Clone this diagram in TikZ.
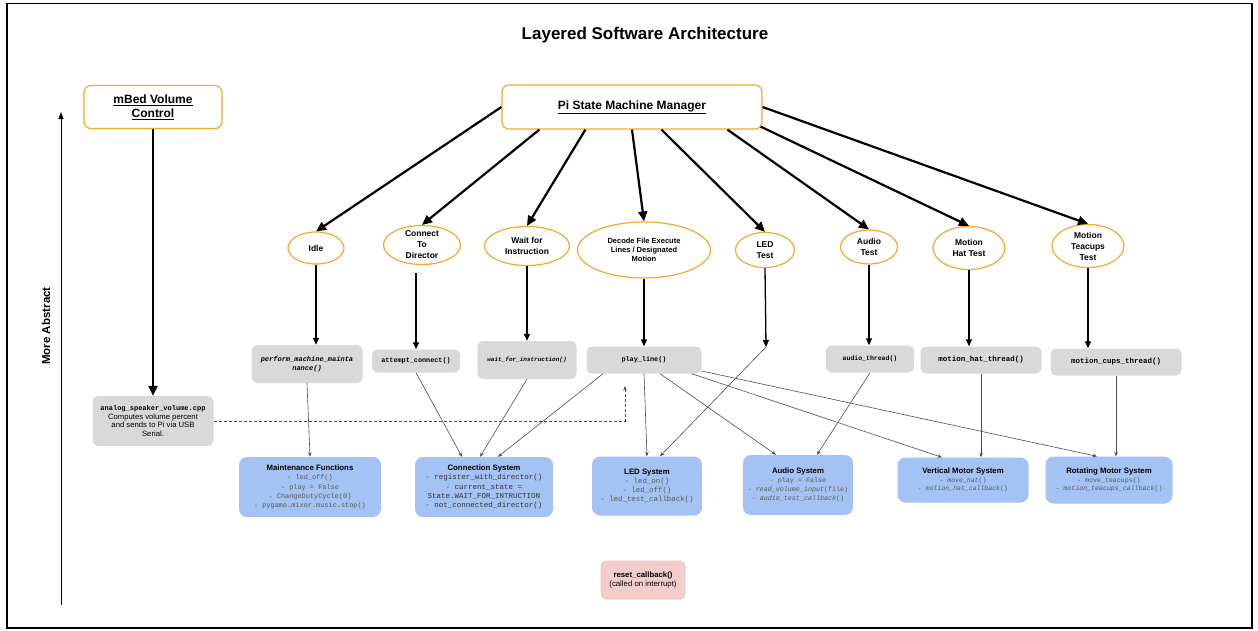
\documentclass[tikz,border=0pt]{standalone}
\usepackage{fontspec}
\setmainfont{Liberation Sans}
\setsansfont{Liberation Sans}
\setmonofont{Liberation Mono}
\usetikzlibrary{arrows.meta,shapes.geometric}

\definecolor{stateorange}{RGB}{247,166,48}
\definecolor{funcgray}{RGB}{217,217,217}
\definecolor{sysblue}{RGB}{164,194,244}
\definecolor{resetpink}{RGB}{244,204,204}
\definecolor{itemgray}{RGB}{90,90,90}

% bold sans heading inside a system box
\newcommand{\sysname}[1]{{\fontsize{7.8}{9.3}\selectfont\rmfamily\bfseries\color{black}#1}}

\begin{document}
\begin{tikzpicture}[x=1pt, y=-1pt,
    box/.style={draw=stateorange, line width=1.2pt, rounded corners=7pt, fill=white, align=center, inner sep=0pt},
    state/.style={ellipse, draw=stateorange, line width=1.2pt, align=center, inner xsep=0pt, inner ysep=-4pt,
                  font=\fontsize{8.5}{11}\selectfont\bfseries},
    func/.style={fill=funcgray, rounded corners=6pt, align=center, inner sep=0pt},
    system/.style={fill=sysblue, rounded corners=8pt, align=center, inner sep=0pt, text=itemgray},
    call/.style={line width=2.2pt, -{Triangle[length=10pt,width=9pt]}},
    down/.style={line width=1.3pt, -{Triangle[length=7pt,width=6pt]}},
    link/.style={draw=black!70, line width=0.6pt, -{Stealth[length=4.5pt,width=3.5pt]}},
  ]
  \useasboundingbox (0,0) rectangle (1258,630);
  \draw[line width=1.5pt] (7,3.5) rectangle (1252,628);

  \node[font=\fontsize{17}{20}\selectfont\bfseries] (title) at (645,35) {Layered Software Architecture};

  % abstraction axis
  \coordinate (axisbottom) at (61,605);
  \coordinate (axistop) at (61,112);
  \draw[line width=1pt, -{Triangle[length=7pt,width=5pt]}] (axisbottom) -- (axistop);
  \node[rotate=90, font=\fontsize{11.5}{13}\selectfont\bfseries] (abstract) at (46,326) {More Abstract};

  % top level
  \node[box, minimum width=138, minimum height=43, font=\fontsize{12}{14}\selectfont\bfseries] (mbed) at (153,107)
    {\underline{mBed Volume}\\\underline{Control}};
  \node[box, minimum width=260, minimum height=44, font=\fontsize{12}{14}\selectfont\bfseries] (pi) at (632,107)
    {\underline{Pi State Machine Manager}};

  % states
  \node[state, minimum width=56, minimum height=32] (idle) at (316,248) {Idle};
  \node[state, minimum width=77, minimum height=39] (connect) at (422,245) {Connect\\To\\Director};
  \node[state, minimum width=85, minimum height=39] (wait) at (527,246) {Wait for\\Instruction};
  \node[state, minimum width=133, minimum height=56, font=\fontsize{7.5}{9}\selectfont\bfseries] (decode) at (644,250)
    {Decode File Execute\\Lines / Designated\\Motion};
  \node[state, minimum width=59, minimum height=35] (ledtest) at (765,250) {LED\\Test};
  \node[state, minimum width=57, minimum height=34] (audiotest) at (869,247) {Audio\\Test};
  \node[state, minimum width=72, minimum height=43] (hattest) at (969,248) {Motion\\Hat Test};
  \node[state, minimum width=72, minimum height=43] (cupstest) at (1088,246) {Motion\\Teacups\\Test};

  \draw[call] (pi.west) -- (idle.north);
  \draw[call] ([xshift=38pt]pi.south west) -- (connect.north);
  \draw[call] ([xshift=84pt]pi.south west) -- (wait.north);
  \draw[call] (pi.south) -- (decode.north);
  \draw[call] ([xshift=160pt]pi.south west) -- (ledtest.north);
  \draw[call] ([xshift=226pt]pi.south west) -- (audiotest.north);
  \draw[call] ([xshift=-2pt,yshift=3pt]pi.south east) -- (hattest.north);
  \draw[call] (pi.east) -- (cupstest.north);

  % thread / function boxes
  \node[func, minimum width=121, minimum height=50, font=\fontsize{7.7}{8.7}\selectfont] (analog) at (153,421)
    {{\fontsize{7}{8.7}\selectfont\ttfamily\bfseries analog\_speaker\_volume.cpp}\\Computes volume percent\\and sends to Pi via USB\\Serial.};
  \node[func, minimum width=111, minimum height=38, font=\fontsize{7}{8.5}\selectfont\ttfamily\bfseries\itshape] (perform) at (307,364)
    {perform\_machine\_mainta\\nance()};
  \node[func, minimum width=88, minimum height=23, font=\fontsize{6.8}{8}\selectfont\ttfamily\bfseries] (attempt) at (416,361)
    {attempt\_connect()};
  \node[func, minimum width=99, minimum height=38, font=\fontsize{6}{8}\selectfont\ttfamily\bfseries\itshape] (waitfn) at (527,360)
    {wait\_for\_instruction()};
  \node[func, minimum width=115, minimum height=27, font=\fontsize{6.8}{8}\selectfont\ttfamily\bfseries] (play) at (644,360)
    {play\_line()};
  \node[func, minimum width=88, minimum height=27, font=\fontsize{6.5}{8}\selectfont\ttfamily\bfseries] (athread) at (870,359)
    {audio\_thread()};
  \node[func, minimum width=121, minimum height=27, font=\fontsize{7.5}{8}\selectfont\ttfamily\bfseries] (hthread) at (981,360)
    {motion\_hat\_thread()};
  \node[func, minimum width=131, minimum height=27, font=\fontsize{7.5}{8}\selectfont\ttfamily\bfseries] (cthread) at (1116,362)
    {motion\_cups\_thread()};
  \coordinate (ledhub) at (766,347);

  \draw[line width=2.2pt, -{Triangle[length=10pt,width=9pt]}] (mbed.south) -- (analog.north);
  \draw[down] (idle.south) -- (idle.south |- perform.north);
  \draw[down, shorten <=8pt] (connect.south -| attempt.north) -- (attempt.north);
  \draw[down] (wait.south) -- (waitfn.north);
  \draw[down] (decode.south) -- (play.north);
  \draw[down] (ledtest.south) -- (ledhub);
  \draw[down] (audiotest.south) -- (audiotest.south |- athread.north);
  \draw[down] (hattest.south) -- (hattest.south |- hthread.north);
  \draw[down] (cupstest.south) -- (cupstest.south |- cthread.north);

  % systems
  \node[system, minimum width=142, minimum height=60, font=\fontsize{6.9}{9.3}\selectfont\ttfamily] (maint) at (310,487)
    {\sysname{Maintenance Functions}\\- led\_off()\\- play = False\\- ChangeDutyCycle(0)\\- pygame.mixer.music.stop()};
  \node[system, minimum width=138, minimum height=60, text=black!80, font=\fontsize{7.5}{9.3}\selectfont\ttfamily] (conn) at (484,487)
    {\sysname{Connection System}\\- register\_with\_director()\\- current\_state =\\State.WAIT\_FOR\_INTRUCTION\\- not\_connected\_director()};
  \node[system, minimum width=110, minimum height=59, font=\fontsize{7.4}{9.3}\selectfont\ttfamily] (led) at (647,486)
    {\sysname{LED System}\\- led\_on()\\- led\_off()\\- led\_test\_callback()};
  \node[system, minimum width=110, minimum height=60, font=\fontsize{6.7}{9}\selectfont\ttfamily] (audio) at (798,485)
    {\sysname{Audio System}\\- play = False\\- \textit{read\_volume\_input}(file)\\- \textit{audio\_test\_callback}()};
  \node[system, minimum width=131, minimum height=45, font=\fontsize{6.5}{8.6}\selectfont\ttfamily] (vmotor) at (963,480)
    {\sysname{Vertical Motor System}\\- \textit{move\_hat}()\\- \textit{motion\_hat\_callback}()};
  \node[system, minimum width=127, minimum height=47, font=\fontsize{6.6}{8.6}\selectfont\ttfamily] (rmotor) at (1109,480)
    {\sysname{Rotating Motor System}\\- move\_teacups()\\- \textit{motion\_teacups\_callback}()};

  \node[fill=resetpink, rounded corners=6pt, minimum width=85, minimum height=39, inner sep=0pt, align=center,
        font=\fontsize{7.8}{9.5}\selectfont] (reset) at (643,580)
    {\textbf{reset\_callback()}\\(called on interrupt)};

  \draw[link] (perform.south) -- (maint.north);
  \draw[link] (attempt.south) -- ([xshift=-22pt]conn.north);
  \draw[link] (waitfn.south) -- ([xshift=-4pt]conn.north);
  \draw[link] ([xshift=-41pt]play.south) -- ([xshift=14pt]conn.north);
  \draw[link] (play.south) -- (led.north);
  \draw[link] (ledhub) -- ([xshift=13pt]led.north);
  \draw[link] ([xshift=16pt]play.south) -- ([xshift=-22pt]audio.north);
  \draw[link] (athread.south) -- ([xshift=19pt]audio.north);
  \draw[link] ([xshift=-10pt]play.south east) -- ([xshift=-21pt]vmotor.north);
  \draw[link] ([yshift=-11pt]play.east) -- ([xshift=-12pt]rmotor.north);
  \draw[link] (hthread.south) -- (hthread.south |- vmotor.north);
  \draw[link] (cthread.south) -- (cthread.south |- rmotor.north);

  % volume value handed to play_line
  \coordinate (volin) at (625,386);
  \draw[link, dash pattern=on 3pt off 2pt] (analog) -| (volin);
\end{tikzpicture}
\end{document}
